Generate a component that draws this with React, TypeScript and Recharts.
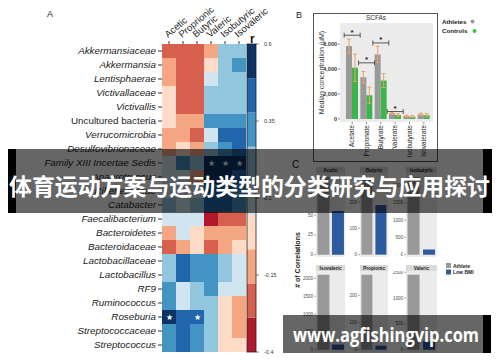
import React from "react";
import {
  Bar,
  BarChart,
  CartesianGrid,
  Cell,
  ComposedChart,
  ErrorBar,
  LabelList,
  Scatter,
  XAxis,
  YAxis,
} from "recharts";

const FONT = '"Liberation Sans", Arial, Helvetica, sans-serif';

// ---- A: taxa x SCFA correlation heatmap ----
const taxa = [
  "Akkermansiaceae", "Akkermansia", "Lentisphaerae", "Victivallaceae", "Victivallis",
  "Uncultured bacteria", "Verrucomicrobia", "Desulfovibrionaceae", "Family XIII Incertae Sedis",
  "Anaerotruncus", "Rikenellaceae", "Catabacter", "Faecalibacterium", "Bacteroidetes",
  "Bacteroidaceae", "Lactobacillaceae", "Lactobacillus", "RF9", "Ruminococcus", "Roseburia",
  "Streptococcaceae", "Streptococcus",
];
const acids = ["Acetic", "Proprionic", "Butyric", "Valeric", "Isobutyric", "Isovaleric"];

const rAcetic = [-0.25, -0.13, -0.11, -0.03, -0.02, -0.04, -0.12, -0.1, 0.08, 0.07, 0.09, 0.19, 0.06, -0.13, -0.24, 0.22, 0.2, 0.3, 0.31, 0.56, 0.33, 0.3];
const rProprionic = [-0.27, -0.25, -0.26, -0.24, -0.25, -0.14, -0.12, -0.02, 0.3, 0.07, 0.08, 0.06, 0.09, 0.07, -0.13, 0.44, 0.42, 0.08, 0.07, 0.45, 0.43, 0.41];
const rButyric = [-0.24, -0.26, -0.25, -0.27, -0.26, -0.13, -0.23, -0.11, 0.21, -0.12, 0.08, 0.2, 0.05, -0.03, -0.01, 0.31, 0.32, 0.19, 0.2, 0.44, 0.3, 0.32];
const rValeric = [-0.12, -0.02, 0.08, 0.2, 0.21, 0.32, 0.07, 0.19, 0.55, 0.52, 0.43, 0.42, -0.35, -0.12, -0.25, 0.31, 0.3, 0.32, 0.21, 0.19, 0.2, 0.21];
const rIsobutyric = [0.2, 0.21, 0.19, 0.2, 0.2, 0.31, 0.43, 0.3, 0.56, 0.53, 0.42, 0.44, -0.24, -0.13, -0.12, 0.2, 0.21, 0.08, -0.02, -0.03, -0.01, -0.02];
const rIsovaleric = [0.21, 0.32, 0.2, 0.19, 0.2, 0.3, 0.42, 0.41, 0.54, 0.43, 0.31, 0.32, -0.23, -0.12, -0.03, 0.08, 0.07, 0.09, -0.13, -0.12, -0.11, -0.02];
const rByAcid = [rAcetic, rProprionic, rButyric, rValeric, rIsobutyric, rIsovaleric];

// [taxon index, acid index]
const sigCells = [[8, 3], [8, 4], [8, 5], [19, 0], [19, 2]];

const rMin = -0.4;
const rMax = 0.6;
const rTicks = [-0.4, -0.15, 0.1, 0.35, 0.6];
const palette = ["#b2182b", "#d6604d", "#f4a582", "#fddbc7", "#d1e5f0", "#92c5de", "#4393c3", "#2166ac", "#0b3366"];
const binW = (rMax - rMin) / palette.length;

function rColor(r: number) {
  const k = Math.min(palette.length - 1, Math.max(0, Math.floor((r - rMin) / binW)));
  return palette[k];
}

// ---- B: SCFA concentrations ----
const scfas = ["Acetate", "Propionate", "Butyrate", "Valerate", "Isobutyrate", "Isovalerate"];
const athletesMedian = [5850, 3350, 5180, 450, 240, 360];
const controlsMedian = [4100, 1900, 3080, 320, 180, 290];
const athletesErr = [560, 460, 650, 90, 70, 100];
const controlsErr = [1100, 650, 560, 100, 80, 140];
const sigBracket = [6720, 4500, 6100, 590, null, null];
const scfaTicks = [0, 2000, 4000, 6000];

// ---- C: number of correlations ----
const facets = ["Acetic", "Butyric", "Isobutyric", "Isovaleric", "Propionic", "Valeric"];
const groups = ["Athlete", "Low BMI"];
const athleteCorr = [98, 295, 2250, 2100, 275, 1450];
const lowBmiCorr = [55, 188, 150, 150, 15, 160];
const facetTicks = [
  [0, 25, 50, 75],
  [0, 100, 200],
  [0, 500, 1000, 1500, 2000],
  [0, 500, 1000, 1500, 2000],
  [0, 100, 200],
  [0, 500, 1000, 1500],
];

const heatRows = taxa.map((name) => {
  const row: any = { name };
  acids.forEach((_, j) => (row[`c${j}`] = 1));
  return row;
});

const cbRow: any = { name: "r", base: rMin };
palette.forEach((_, k) => (cbRow[`s${k}`] = binW));

const scfaRows = scfas.map((name, i) => ({
  name,
  ath: athletesMedian[i],
  ctl: controlsMedian[i],
  athErr: athletesErr[i],
  ctlErr: controlsErr[i],
  sig: sigBracket[i],
}));

function TaxonTick(props: any) {
  const { x, y, payload } = props;
  const italic = payload.value !== "Uncultured bacteria";
  return (
    <text x={x} y={y} dy={3.4} textAnchor="end" fontSize={9.8} fontStyle={italic ? "italic" : "normal"} fill="#222">
      {payload.value}
    </text>
  );
}

function AcidTick(props: any) {
  const { x, y, index } = props;
  return (
    <text transform={`translate(${x - 1},${y - 1}) rotate(-40)`} fontSize={9.5} fill="#222">
      {acids[index]}
    </text>
  );
}

const starLabel = (j: number) => (props: any) => {
  const vb = props.viewBox || props;
  const { x, y, width, height } = vb;
  if (!sigCells.some(([r, c]) => r === props.index && c === j)) return null;
  return (
    <text x={x + width / 2} y={y + height / 2 + 3} textAnchor="middle" fontSize={8} fill="#fff">
      ★
    </text>
  );
};

function ScfaTick(props: any) {
  const { x, y, payload } = props;
  return (
    <text transform={`translate(${x + 2.3},${y}) rotate(-90)`} textAnchor="end" fontSize={6.5} fill="#222">
      {payload.value}
    </text>
  );
}

function Bracket(props: any) {
  const { cx, cy } = props;
  if (cx == null || cy == null || !isFinite(cx) || !isFinite(cy)) return null;
  return (
    <g stroke="#333" strokeWidth={0.8}>
      <line x1={cx - 8} x2={cx + 8} y1={cy} y2={cy} />
      <line x1={cx - 8} x2={cx - 8} y1={cy - 2.5} y2={cy + 2.5} />
      <line x1={cx + 8} x2={cx + 8} y1={cy - 2.5} y2={cy + 2.5} />
      <text x={cx} y={cy - 0.5} textAnchor="middle" fontSize={8} fontWeight={700} stroke="none" fill="#222">
        *
      </text>
    </g>
  );
}

const facetBoxes = [
  { x: 316, w: 29, row: 0 },
  { x: 360, w: 28, row: 0 },
  { x: 406, w: 31, row: 0 },
  { x: 316, w: 29, row: 1 },
  { x: 360, w: 28, row: 1 },
  { x: 406, w: 31, row: 1 },
];
const stripTop = [167, 265];
const panelTop = [173, 271];
const panelBottom = [257, 352];
const YW = 14;

function Facet({ i }: { i: number }) {
  const box = facetBoxes[i];
  const data = groups.map((g, k) => ({ group: g, n: k === 0 ? athleteCorr[i] : lowBmiCorr[i] }));
  const hi = Math.max(athleteCorr[i], lowBmiCorr[i]);
  const h = panelBottom[box.row] - panelTop[box.row];
  return (
    <div style={{ position: "absolute", left: box.x - YW, top: panelTop[box.row] }}>
      <BarChart width={box.w + YW} height={h} data={data} margin={{ top: 0, right: 0, bottom: 0, left: 0 }} barCategoryGap="10%">
        <CartesianGrid fill="#ebebeb" stroke="none" horizontal={false} vertical={false} />
        <XAxis dataKey="group" hide />
        <YAxis
          width={YW}
          domain={[-0.03 * hi, 1.05 * hi]}
          allowDataOverflow
          ticks={facetTicks[i]}
          interval={0}
          tick={{ fontSize: 4.5, fill: "#4d4d4d" }}
          tickSize={2}
          tickMargin={1}
          axisLine={false}
          tickLine={{ stroke: "#4d4d4d", strokeWidth: 0.5 }}
        />
        <Bar dataKey="n" isAnimationActive={false}>
          {data.map((_, k) => (
            <Cell key={k} fill={k === 0 ? "#999999" : "#2e5a9e"} />
          ))}
        </Bar>
      </BarChart>
    </div>
  );
}

export default function App() {
  return (
    <div style={{ position: "relative", width: 500, height: 362, margin: -8, background: "#fff", overflow: "hidden", fontFamily: FONT }}>
      {/* A heatmap */}
      <div style={{ position: "absolute", left: 0, top: 0 }}>
        <BarChart layout="vertical" width={300} height={362} data={heatRows} margin={{ top: 14, right: 54, bottom: 10, left: 0 }} barCategoryGap={0}>
          <XAxis
            type="number"
            orientation="top"
            domain={[0, acids.length]}
            ticks={acids.map((_, j) => j + 0.5)}
            interval={0}
            height={30}
            tick={<AcidTick />}
            tickSize={3}
            axisLine={false}
            tickLine={{ stroke: "#333" }}
          />
          <YAxis type="category" dataKey="name" width={162} interval={0} tick={<TaxonTick />} tickSize={4} axisLine={false} tickLine={{ stroke: "#333" }} />
          {acids.map((a, j) => (
            <Bar key={a} dataKey={`c${j}`} stackId="h" isAnimationActive={false}>
              {heatRows.map((_, i) => (
                <Cell key={i} fill={rColor(rByAcid[j][i])} />
              ))}
              <LabelList dataKey={`c${j}`} content={starLabel(j)} />
            </Bar>
          ))}
        </BarChart>
      </div>

      {/* A colour bar */}
      <div style={{ position: "absolute", left: 230, top: 0 }}>
        <BarChart width={60} height={362} data={[cbRow]} margin={{ top: 44, right: 0, bottom: 10, left: 17 }} barCategoryGap={0}>
          <XAxis dataKey="name" hide />
          <YAxis
            orientation="right"
            width={34}
            domain={[rMin, rMax]}
            allowDataOverflow
            ticks={rTicks}
            interval={0}
            tick={{ fontSize: 5.5, fill: "#333" }}
            tickSize={3}
            tickMargin={5}
            axisLine={false}
            tickLine={{ stroke: "#333", strokeWidth: 0.6 }}
          />
          <Bar dataKey="base" stackId="cb" fill="none" isAnimationActive={false} />
          {palette.map((c, k) => (
            <Bar key={c} dataKey={`s${k}`} stackId="cb" fill={c} isAnimationActive={false} />
          ))}
        </BarChart>
      </div>

      {/* B SCFA bars */}
      <div style={{ position: "absolute", left: 300, top: 0 }}>
        <ComposedChart width={140} height={170} data={scfaRows} margin={{ top: 23, right: 7, bottom: 6, left: 0 }} barGap={0} barSize={6}>
          <CartesianGrid fill="#ebebeb" stroke="none" horizontal={false} vertical={false} />
          <XAxis dataKey="name" interval={0} height={42} padding={{ left: 5, right: 2 }} tick={<ScfaTick />} tickSize={2} tickMargin={1} axisLine={false} tickLine={{ stroke: "#333", strokeWidth: 0.6 }} />
          <YAxis
            width={40}
            domain={[-250, 7700]}
            allowDataOverflow
            ticks={scfaTicks}
            interval={0}
            tickFormatter={(v: number) => v.toLocaleString("en-US")}
            tick={{ fontSize: 5.5, fill: "#333", fontWeight: 700 }}
            tickSize={2}
            tickMargin={1}
            axisLine={false}
            tickLine={{ stroke: "#333", strokeWidth: 0.6 }}
            label={{ value: "Median concentration (uM)", angle: -90, position: "insideLeft", offset: 22, style: { fontSize: 7, fill: "#333", textAnchor: "middle" } }}
          />
          <Bar dataKey="ath" fill="#999999" isAnimationActive={false}>
            <ErrorBar dataKey="athErr" width={2} stroke="#f0a060" strokeWidth={1} />
          </Bar>
          <Bar dataKey="ctl" fill="#3cb54a" isAnimationActive={false}>
            <ErrorBar dataKey="ctlErr" width={2} stroke="#f0a060" strokeWidth={1} />
          </Bar>
          <Scatter dataKey="sig" shape={<Bracket />} isAnimationActive={false} />
        </ComposedChart>
      </div>

      {/* C facets */}
      {facets.map((f, i) => (
        <Facet key={f} i={i} />
      ))}

      {/* labels, strips, legends and overlays */}
      <svg width={500} height={362} style={{ position: "absolute", left: 0, top: 0, pointerEvents: "none" }} fontFamily={FONT}>
        <text x={47} y={17} fontSize={9} fill="#222">A</text>
        <text x={250} y={43} fontSize={12} fontWeight={700} fill="#111">r</text>
        <rect x={247} y={44} width={9} height={308} fill="none" stroke="#222" strokeWidth={0.8} />

        <text x={296} y={18} fontSize={9} fill="#222">B</text>
        <rect x={313.5} y={13.5} width={124} height={148} fill="none" stroke="#555" strokeWidth={1} />
        <text x={376} y={20} fontSize={6.5} fill="#333" textAnchor="middle">SCFAs</text>
        <text x={442} y={23.5} fontSize={6.2} fontWeight={700} fill="#222">Athletes</text>
        <circle cx={472.5} cy={21.5} r={2} fill="#999999" />
        <text x={442} y={33} fontSize={6.2} fontWeight={700} fill="#222">Controls</text>
        <circle cx={474.5} cy={31} r={2} fill="#33cc33" />

        <text x={292} y={168} fontSize={10} fill="#222">C</text>
        {facets.map((f, i) => {
          const b = facetBoxes[i];
          return (
            <g key={f}>
              <rect x={b.x} y={stripTop[b.row]} width={b.w} height={6} fill="#d9d9d9" />
              <text x={b.x + b.w / 2} y={stripTop[b.row] + 4.8} fontSize={4.8} fontWeight={700} fill="#1a1a1a" textAnchor="middle">{f}</text>
            </g>
          );
        })}
        <text transform="translate(300,260) rotate(-90)" fontSize={7} fontWeight={700} fill="#222" textAnchor="middle"># of Correlations</text>
        <rect x={446} y={263} width={5} height={5} fill="#999999" />
        <text x={453} y={267.5} fontSize={5} fontWeight={700} fill="#222">{groups[0]}</text>
        <rect x={446} y={269.5} width={5} height={5} fill="#2e5a9e" />
        <text x={453} y={274} fontSize={5} fontWeight={700} fill="#222">{groups[1]}</text>

        {/* title banner */}
        <rect x={16} y={149} width={467} height={64} fill="rgba(0,0,0,0.6)" />
        <rect x={8} y={149} width={8} height={64} fill="#000" />
        <rect x={483} y={149} width={9} height={64} fill="#000" />
        <text x={9} y={195} fontSize={23} fontWeight={700} fill="#fff" fontFamily='"Noto Sans CJK SC", sans-serif' textLength={481} lengthAdjust="spacingAndGlyphs">
          体育运动方案与运动类型的分类研究与应用探讨
        </text>

        {/* watermark */}
        <rect x={283} y={315} width={200} height={38} fill="rgba(0,0,0,0.6)" />
        <rect x={483} y={315} width={8} height={38} fill="#000" />
        <text x={293} y={342} fontSize={19} fontWeight={700} fill="#fff" fontFamily='"Open Sans", "Noto Sans", sans-serif' textLength={186} lengthAdjust="spacingAndGlyphs">
          www.agfishingvip.com
        </text>
      </svg>
    </div>
  );
}
